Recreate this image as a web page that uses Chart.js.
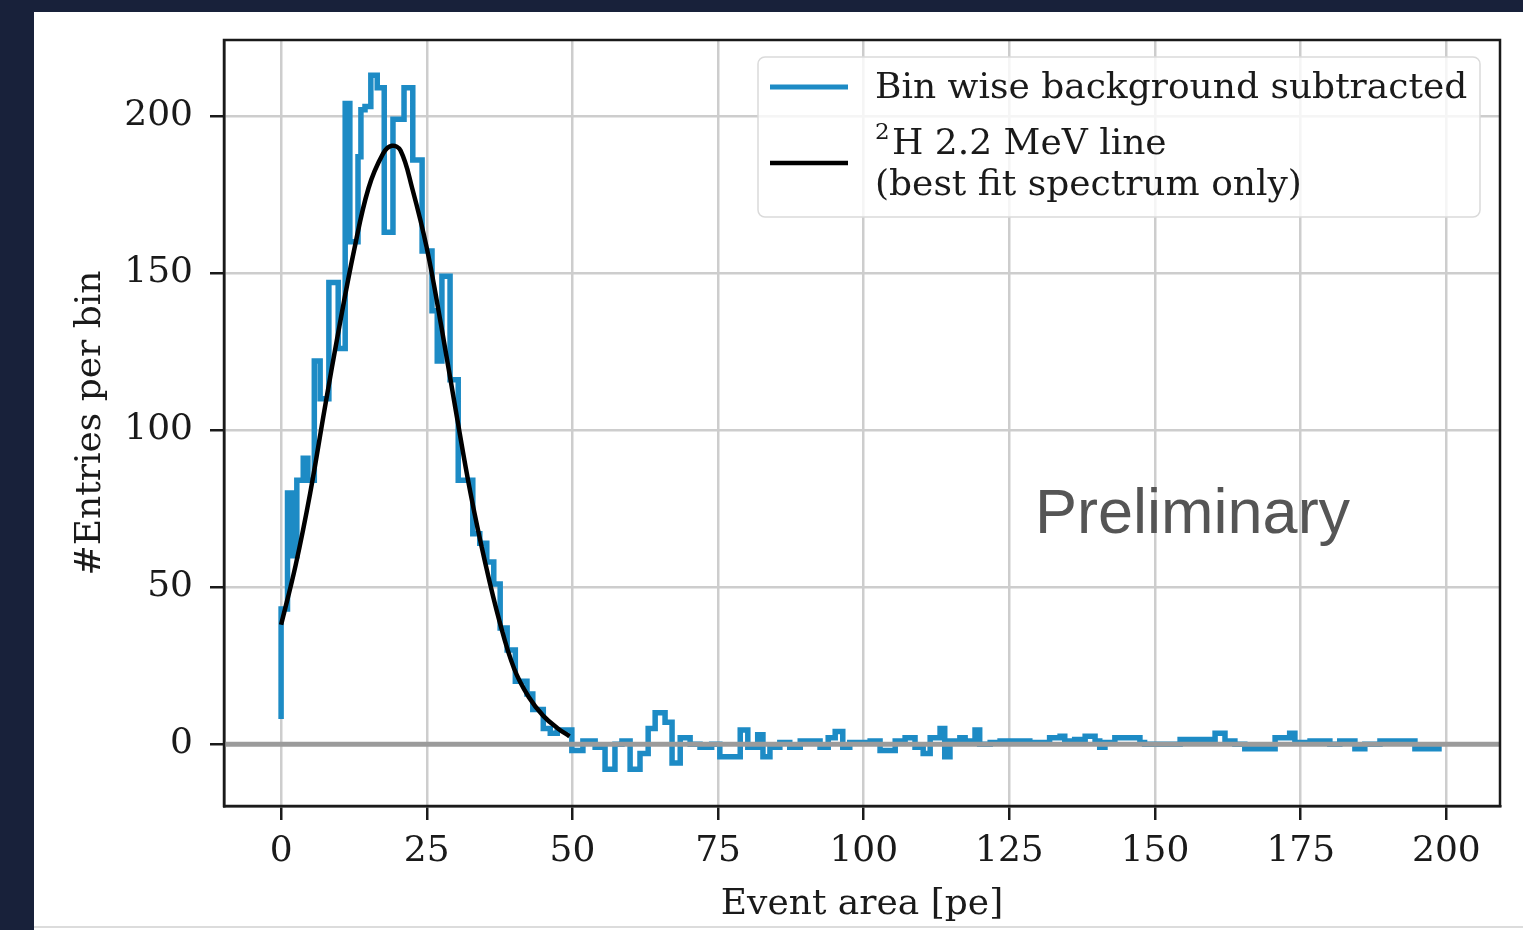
<!DOCTYPE html>
<html>
<head>
<meta charset="utf-8">
<script src="https://cdn.jsdelivr.net/npm/chart.js@4/dist/chart.umd.min.js"></script>
<style>
  html, body { margin: 0; padding: 0; width: 1523px; height: 930px; overflow: hidden; background: #18213a; }
  #panel { position: absolute; left: 34px; top: 12px; width: 1489px; height: 918px; background: #ffffff; }
  #foot { position: absolute; left: 0; top: 914px; width: 1489px; height: 2px; background: #dcdcdc; }
  canvas { position: absolute; left: 0; top: 0; }
</style>
</head>
<body>
<div id="panel">
  <canvas id="c" width="1489" height="918"></canvas>
  <div id="foot"></div>
</div>
<script>
// Histogram: bin edges [pe] and background-subtracted entries per bin
const binEdges = [
  0, 1.1, 1.8, 2.7, 3.8, 4.6, 5.7, 6.7, 8.2, 9.8, 11.0, 11.8, 13.2, 13.7, 14.4, 15.4, 16.5, 17.7, 19.2, 21.1,
  22.6, 24.2, 25.9, 26.8, 27.6, 29.0, 30.4, 32.9, 34.1, 35.3, 36.5, 37.6, 38.8, 40.2, 42.2, 43.2, 45.0, 46.2,
  47.4, 49.9, 51.8, 53.9, 55.6, 57.3, 58.5, 59.9, 61.6, 63.0, 64.2, 65.9, 67.1, 68.5, 70.2, 71.9, 73.9, 75.3,
  78.8, 80.1, 81.8, 82.7, 83.9, 85.6, 87.3, 89.1, 92.5, 93.9, 95.1, 96.4, 97.6, 101.1, 102.8, 105.4, 107.1,
  108.8, 110.2, 111.4, 113.1, 113.9, 114.8, 116.5, 117.4, 119.1, 119.9, 121.7, 123.4, 128.5, 131.9, 133.7,
  134.5, 136.2, 138.0, 139.7, 140.5, 141.4, 143.1, 147.4, 148.2, 154.3, 156.0, 160.3, 162.0, 163.7, 165.4,
  170.6, 173.1, 174.0, 176.6, 180.0, 181.7, 184.3, 186.0, 188.6, 190.3, 194.6, 196.3, 199.2
];
const binCounts = [
  8, 43, 80, 60, 84, 91, 84, 122, 110, 147, 126, 204, 160, 187, 202, 203, 213, 209, 163,
  199, 209, 186, 157, 138, 122, 149, 116, 84, 67, 64, 58, 51, 37, 30, 20, 16, 11, 5,
  3.5, 4.5, -2, 1, -1, -8, 0, 1, -8, -3, 5, 10, 7, -6, 2, 0, -1,
  0, -4, 4.5, -1, 3, -4, -1, 0.5, -1, 1, -1, 2, 4, -1, 0.5, 1, -2,
  1, 2, -1, -3, 2, 5, -4, 1, 2, 1, 4.5, 0, 0.5, 1, 0.5,
  2, 2.5, 1, 1.5, 2.5, 1, -1, 0.5, 2, 0.5, 0, 1.5, 1.5, 3.5, 1,
  0, -1.5, 2, 3.5, 0.5, 1, 0, 1, -1.5, 0, 1, 1, -1.5
];

// Best-fit 2H 2.2 MeV line shape
const fitX = [0, 2.5, 5, 7.5, 10, 12.5, 15, 17.5, 19, 20.5, 22.5, 25, 27.5, 30, 32.5, 35, 37.5, 40, 42.5, 45, 47.5, 49.5];
const fitY = [38, 57, 80, 107, 133, 157, 177, 188, 190.5, 189, 177, 158, 133, 106, 80, 58, 39, 24, 15, 9, 5, 2.5];

const xTicks = [0, 25, 50, 75, 100, 125, 150, 175, 200];
const yTicks = [0, 50, 100, 150, 200];
const xRange = [-9.8, 209.2];
const yRange = [-19.7, 224.2];

const seriesNames = ['Bin wise background subtracted', '2H 2.2 MeV line', '(best fit spectrum only)'];
const watermark = 'Preliminary';

const BLUE = '#1d8bc5';
const SERIF = '"DejaVu Serif", serif';

// step outline: one point per bin edge, last edge repeats the last bin value
const histPoints = binEdges.map((e, i) => ({ x: e, y: binCounts[Math.min(i, binCounts.length - 1)] }));
const fitPoints = fitX.map((x, i) => ({ x, y: fitY[i] }));

const decorations = {
  id: 'decorations',
  afterDatasetsDraw(chart) {
    const { ctx, chartArea: a, scales: { x, y } } = chart;
    // zero baseline
    ctx.save();
    ctx.beginPath();
    ctx.rect(a.left, a.top, a.right - a.left, a.bottom - a.top);
    ctx.clip();
    const y0 = y.getPixelForValue(0);
    ctx.strokeStyle = '#9b9b9b';
    ctx.lineWidth = 5;
    ctx.beginPath();
    ctx.moveTo(a.left, y0);
    ctx.lineTo(a.right, y0);
    ctx.stroke();
    ctx.restore();

    // watermark
    ctx.save();
    ctx.fillStyle = '#555555';
    ctx.font = '63px "Liberation Sans", Arial, sans-serif';
    ctx.textBaseline = 'alphabetic';
    ctx.textAlign = 'left';
    ctx.fillText(watermark, x.getPixelForValue(129.4), y.getPixelForValue(67.2));
    ctx.restore();
  },
  afterDraw(chart) {
    const { ctx, chartArea: a } = chart;
    ctx.save();
    // axes frame
    ctx.strokeStyle = '#1a1a1a';
    ctx.lineWidth = 2.5;
    ctx.strokeRect(a.left, a.top, a.right - a.left, a.bottom - a.top);

    // legend box
    const bx = 724, by = 45, bw = 722, bh = 160, r = 7;
    ctx.beginPath();
    ctx.moveTo(bx + r, by);
    ctx.arcTo(bx + bw, by, bx + bw, by + bh, r);
    ctx.arcTo(bx + bw, by + bh, bx, by + bh, r);
    ctx.arcTo(bx, by + bh, bx, by, r);
    ctx.arcTo(bx, by, bx + bw, by, r);
    ctx.closePath();
    ctx.fillStyle = 'rgba(255,255,255,0.8)';
    ctx.fill();
    ctx.strokeStyle = '#dadada';
    ctx.lineWidth = 1.5;
    ctx.stroke();

    // handles
    ctx.lineWidth = 5;
    ctx.lineCap = 'butt';
    ctx.strokeStyle = BLUE;
    ctx.beginPath(); ctx.moveTo(736, 75); ctx.lineTo(814, 75); ctx.stroke();
    ctx.lineWidth = 4.5;
    ctx.strokeStyle = '#000';
    ctx.beginPath(); ctx.moveTo(736, 151); ctx.lineTo(814, 151); ctx.stroke();

    // labels
    ctx.fillStyle = '#1a1a1a';
    ctx.textBaseline = 'middle';
    ctx.textAlign = 'left';
    ctx.font = '36px ' + SERIF;
    ctx.fillText(seriesNames[0], 841, 77);
    ctx.font = '23px ' + SERIF;
    ctx.fillText(seriesNames[1].charAt(0), 841, 121);
    ctx.font = '36px ' + SERIF;
    ctx.fillText(seriesNames[1].slice(1), 858, 133);
    ctx.fillText(seriesNames[2], 841, 174);
    ctx.restore();
  }
};

const zeroScalePadding = s => { s.paddingTop = 0; s.paddingBottom = 0; s.paddingLeft = 0; s.paddingRight = 0; };

new Chart(document.getElementById('c'), {
  type: 'line',
  data: {
    datasets: [
      {
        label: seriesNames[1],
        data: fitPoints,
        borderColor: '#000000',
        borderWidth: 4.5,
        pointRadius: 0,
        tension: 0.4,
        fill: false
      },
      {
        label: seriesNames[0],
        data: histPoints,
        borderColor: BLUE,
        borderWidth: 5.5,
        pointRadius: 0,
        stepped: 'after',
        borderJoinStyle: 'miter',
        fill: false
      }
    ]
  },
  options: {
    responsive: false,
    animation: false,
    devicePixelRatio: 1,
    layout: { padding: { top: 28, right: 23, left: 0, bottom: 0 } },
    plugins: { legend: { display: false }, tooltip: { enabled: false } },
    scales: {
      x: {
        type: 'linear',
        min: xRange[0],
        max: xRange[1],
        afterBuildTicks: s => { s.ticks = xTicks.map(v => ({ value: v })); },
        afterFit: s => { s.height = 124; zeroScalePadding(s); },
        grid: { color: '#cdcdcd', lineWidth: 2.5, tickColor: '#1a1a1a', tickWidth: 2.5, tickLength: 14 },
        border: { color: '#1a1a1a', width: 2.5 },
        ticks: { font: { family: SERIF, size: 36 }, color: '#1a1a1a', padding: 10, maxRotation: 0, autoSkip: false },
        title: { display: true, text: 'Event area [pe]', font: { family: SERIF, size: 36 }, color: '#1a1a1a', padding: { top: 0, bottom: 4 } }
      },
      y: {
        type: 'linear',
        min: yRange[0],
        max: yRange[1],
        afterBuildTicks: s => { s.ticks = yTicks.map(v => ({ value: v })); },
        afterFit: s => { s.width = 190; zeroScalePadding(s); },
        grid: { color: '#cdcdcd', lineWidth: 2.5, tickColor: '#1a1a1a', tickWidth: 2.5, tickLength: 14 },
        border: { color: '#1a1a1a', width: 2.5 },
        ticks: { font: { family: SERIF, size: 36 }, color: '#1a1a1a', padding: 17, autoSkip: false },
        title: { display: true, text: '#Entries per bin', font: { family: SERIF, size: 36 }, color: '#1a1a1a', padding: { top: 35, bottom: 0 } }
      }
    }
  },
  plugins: [decorations]
});
</script>
</body>
</html>
